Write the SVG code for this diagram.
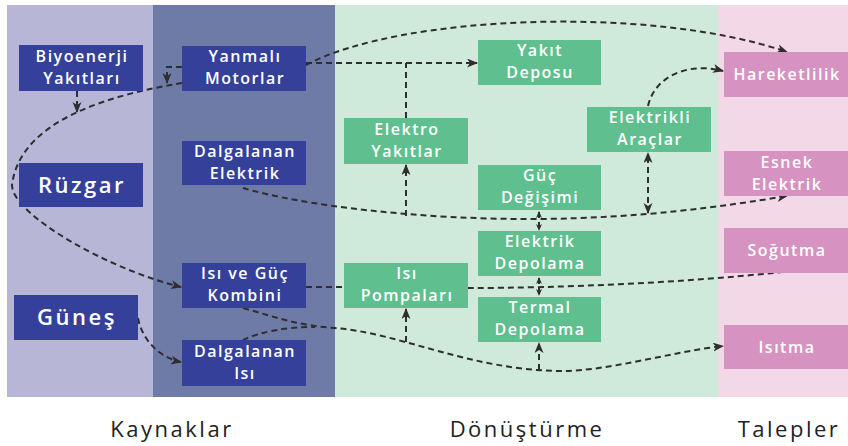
<svg xmlns="http://www.w3.org/2000/svg" width="848" height="446" viewBox="0 0 848 446">
<style>
.nb{fill:#35409a}
.ng{fill:#5fbf8e}
.np{fill:#d692c0}
.t{font-family:"Open Sans","Liberation Sans",sans-serif;font-size:16px;font-weight:600;fill:#ffffff;text-anchor:middle;letter-spacing:1.5px}
.tb{font-family:"Open Sans","Liberation Sans",sans-serif;font-size:22px;font-weight:600;fill:#ffffff;text-anchor:middle;letter-spacing:2.5px}
.lab{font-family:"Open Sans","Liberation Sans",sans-serif;font-size:22px;fill:#222222;text-anchor:middle;letter-spacing:2.5px}
.c{fill:none;stroke:#2e2e2e;stroke-width:2;stroke-dasharray:6 4}
</style>
<defs>
<marker id="ah" markerUnits="userSpaceOnUse" markerWidth="11" markerHeight="10" refX="10" refY="4.5" orient="auto-start-reverse">
<path d="M0,0 L11,4.5 L0,9 L3,4.5 z" fill="#2e2e2e"/>
</marker>
<marker id="as" markerUnits="userSpaceOnUse" markerWidth="7" markerHeight="7" refX="6" refY="3" orient="auto-start-reverse">
<path d="M0,0 L7,3 L0,6 L2,3 z" fill="#2e2e2e"/>
</marker>
</defs>
<g id="background">
<rect x="7" y="5" width="146" height="392" fill="#b7b6d6"/>
<rect x="153" y="5" width="182" height="392" fill="#6f7ba7"/>
<rect x="335" y="5" width="383" height="392" fill="#cfe9da"/>
<rect x="718" y="5" width="130" height="392" fill="#f3d9e7"/>
</g>
<g id="connectors">
<path class="c" d="M77 91 L77 112" marker-end="url(#ah)"/>
<path class="c" d="M182 67 L167 67 L167 83" marker-end="url(#ah)"/>
<path class="c" d="M182 83 C110 95 20 120 12 185 C12 215 110 270 181 287" marker-end="url(#ah)"/>
<path class="c" d="M138 318 C142 340 160 358 181 362" marker-end="url(#ah)"/>
<path class="c" d="M306 287 L344 287"/>
<path class="c" d="M468 288 C560 288 680 283 782 272"/>
<path class="c" d="M243 308 C275 317 300 326 335 328 C400 333 470 370 560 371 C610 371 670 352 723 346" marker-end="url(#ah)"/>
<path class="c" d="M243 340 C260 332 285 327 315 327"/>
<path class="c" d="M406 342 L406 309" marker-end="url(#ah)"/>
<path class="c" d="M539 370 L539 343" marker-end="url(#ah)"/>
<path class="c" d="M539 278 L539 295" marker-start="url(#as)" marker-end="url(#as)"/>
<path class="c" d="M539 212 L539 230" marker-start="url(#as)" marker-end="url(#as)"/>
<path class="c" d="M243 188 C300 205 420 220 540 219 C640 218 720 207 787 196" marker-end="url(#ah)"/>
<path class="c" d="M406 216 L406 165" marker-end="url(#ah)"/>
<path class="c" d="M406 118 L406 63"/>
<path class="c" d="M306 63 L477 63" marker-end="url(#ah)"/>
<path class="c" d="M306 65 C400 15 650 5 787 52" marker-end="url(#ah)"/>
<path class="c" d="M648 106 C655 75 690 62 723 71" marker-end="url(#ah)"/>
<path class="c" d="M648 213 L648 153" marker-start="url(#ah)" marker-end="url(#ah)"/>
</g>
<g id="biyoenerji"><rect class="nb" x="19" y="45" width="124" height="46"/><text class="t" x="82" y="62">Biyoenerji</text><text class="t" x="82" y="84">Yakıtları</text></g>
<g id="ruzgar"><rect class="nb" x="19" y="163" width="124" height="44"/><text class="tb" x="82" y="193">Rüzgar</text></g>
<g id="gunes"><rect class="nb" x="14" y="295" width="124" height="45"/><text class="tb" x="77" y="325">Güneş</text></g>
<g id="yanmali"><rect class="nb" x="182" y="46" width="124" height="45"/><text class="t" x="245" y="62">Yanmalı</text><text class="t" x="245" y="84">Motorlar</text></g>
<g id="dalgalanan-elektrik"><rect class="nb" x="182" y="141" width="124" height="44"/><text class="t" x="245" y="157">Dalgalanan</text><text class="t" x="245" y="179">Elektrik</text></g>
<g id="isi-guc"><rect class="nb" x="182" y="263" width="124" height="45"/><text class="t" x="245" y="279">Isı ve Güç</text><text class="t" x="245" y="301">Kombini</text></g>
<g id="dalgalanan-isi"><rect class="nb" x="182" y="340" width="124" height="46"/><text class="t" x="245" y="357">Dalgalanan</text><text class="t" x="245" y="379">Isı</text></g>
<g id="yakit-deposu"><rect class="ng" x="478" y="40" width="123" height="45"/><text class="t" x="540" y="56">Yakıt</text><text class="t" x="540" y="78">Deposu</text></g>
<g id="elektro-yakitlar"><rect class="ng" x="344" y="118" width="124" height="46"/><text class="t" x="407" y="135">Elektro</text><text class="t" x="407" y="157">Yakıtlar</text></g>
<g id="elektrikli-araclar"><rect class="ng" x="587" y="107" width="124" height="45"/><text class="t" x="650" y="123">Elektrikli</text><text class="t" x="650" y="145">Araçlar</text></g>
<g id="guc-degisimi"><rect class="ng" x="478" y="165" width="123" height="45"/><text class="t" x="540" y="181">Güç</text><text class="t" x="540" y="203">Değişimi</text></g>
<g id="elektrik-depolama"><rect class="ng" x="478" y="231" width="123" height="45"/><text class="t" x="540" y="247">Elektrik</text><text class="t" x="540" y="269">Depolama</text></g>
<g id="isi-pompalari"><rect class="ng" x="344" y="263" width="124" height="45"/><text class="t" x="407" y="279">Isı</text><text class="t" x="407" y="301">Pompaları</text></g>
<g id="termal-depolama"><rect class="ng" x="478" y="297" width="123" height="45"/><text class="t" x="540" y="313">Termal</text><text class="t" x="540" y="335">Depolama</text></g>
<g id="hareketlilik"><rect class="np" x="724" y="52" width="124" height="45"/><text class="t" x="787" y="80">Hareketlilik</text></g>
<g id="esnek-elektrik"><rect class="np" x="724" y="151" width="124" height="45"/><text class="t" x="787" y="168">Esnek</text><text class="t" x="787" y="190">Elektrik</text></g>
<g id="sogutma"><rect class="np" x="724" y="228" width="124" height="45"/><text class="t" x="787" y="256">Soğutma</text></g>
<g id="isitma"><rect class="np" x="724" y="325" width="124" height="44"/><text class="t" x="787" y="353">Isıtma</text></g>
<g id="labels">
<text class="lab" x="172" y="437">Kaynaklar</text>
<text class="lab" x="527" y="437">Dönüştürme</text>
<text class="lab" x="789" y="437">Talepler</text>
</g>
</svg>
